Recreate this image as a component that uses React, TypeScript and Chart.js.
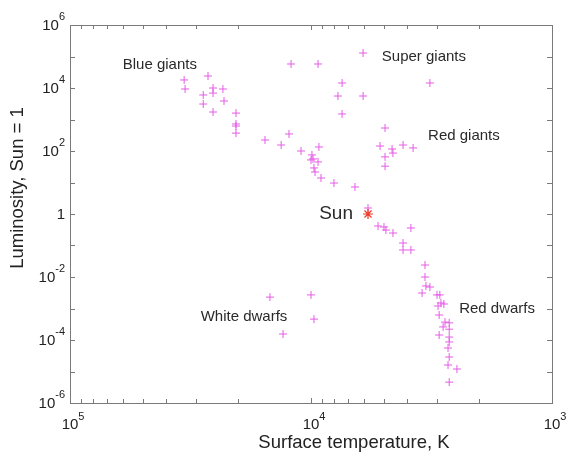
import React, { useEffect, useRef } from "react";
import { Chart, registerables } from "chart.js";

Chart.register(...registerables);

// Star surface temperatures (K) and luminosities (Sun = 1)
const starTemps: number[] = [
  33600, 33300, 26750, 25500, 25500, 23200, 28000, 28000, 22960, 25500,
  20480, 20480, 20480, 20480, 15520, 13300, 12340,
  12100, 9350, 6080, 7430, 7730, 6080, 7430, 3210,
  11000, 9270, 9910, 10000, 9810, 9350, 9720, 9620, 9090, 8030, 6570,
  4930, 5170, 4610, 4570, 4930, 4150, 3770, 4930,
  5800,
  5270, 4980, 4890, 4570, 3850, 4150, 4150, 3850, 3365, 3365,
  3335, 3210, 3460, 3000, 2920, 2890, 2810, 2970, 2940, 2780,
  2670, 2830, 2670, 2940, 2670, 2670, 2700, 2670, 2700, 2480, 2670,
  14800, 13060, 10000, 9720,
];
const starLums: number[] = [
  18000, 9300, 24000, 10000, 6900, 9300, 6000, 3100, 3870, 1730,
  1600, 720, 620, 370, 223, 155, 347,
  57800, 57800, 129000, 14400, 5570, 5570, 1500, 14400,
  100, 134, 75, 52, 56, 45, 29, 21.5, 13.9, 9.6, 7.2,
  537, 144, 116, 86, 65, 155, 125, 33,
  1.55,
  0.416, 0.386, 0.31, 0.249, 0.36, 0.12, 0.072, 0.072, 0.024, 0.01,
  0.0052, 0.0048, 0.0031, 0.0027, 0.0027, 0.0015, 0.00139, 0.0012, 0.00062, 0.00037,
  0.00035, 0.00026, 0.00022, 0.000144, 0.000124, 0.0000865, 0.0000557, 0.0000289, 0.0000161, 0.000012, 0.0000046,
  0.0023, 0.000155, 0.0027, 0.00046,
];

const sunTemp: number[] = [5800];
const sunLum: number[] = [1];

// Region labels (positioned in data coordinates)
const regionNames: string[] = ["Blue giants", "Super giants", "Red giants", "White dwarfs", "Red dwarfs"];
const regionTemps: number[] = [42400, 3400, 2320, 18970, 1690];
const regionLums: number[] = [53700, 96400, 299, 0.000537, 0.00096];
const sunLabel = "Sun";
const sunLabelTemp = 7870;
const sunLabelLum = 1;

// Tick labels
const xTickVals: number[] = [100000, 10000, 1000];
const xTickExps: string[] = ["5", "4", "3"];
const yTickVals: number[] = [1e6, 1e4, 1e2, 1, 1e-2, 1e-4, 1e-6];
const yTickExps: string[] = ["6", "4", "2", "", "-2", "-4", "-6"];

const xTitle = "Surface temperature, K";
const yTitle = "Luminosity, Sun = 1";

const FONT = "'Liberation Sans', Arial, Helvetica, sans-serif";

const framePlugin = {
  id: "framePlugin",
  afterDraw(chart: any) {
    const ctx = chart.ctx as CanvasRenderingContext2D;
    const { left, right, top, bottom } = chart.chartArea;
    const xs = chart.scales.x;
    const ys = chart.scales.y;
    ctx.save();
    // frame
    ctx.strokeStyle = "#7a7a7a";
    ctx.lineWidth = 1;
    ctx.strokeRect(Math.round(left) + 0.5, Math.round(top) + 0.5, Math.round(right - left), Math.round(bottom - top));

    // x ticks (major + minor), inward, bottom and top
    ctx.beginPath();
    for (let e = 3; e <= 4; e++) {
      for (let m = 1; m <= 9; m++) {
        const v = m * Math.pow(10, e);
        const px = Math.round(xs.getPixelForValue(v)) + 0.5;
        const len = m === 1 ? 5 : 4;
        ctx.moveTo(px, bottom);
        ctx.lineTo(px, bottom - len);
        ctx.moveTo(px, top);
        ctx.lineTo(px, top + len);
      }
    }
    // y ticks every decade, left and right
    for (let e = -6; e <= 6; e++) {
      const py = Math.round(ys.getPixelForValue(Math.pow(10, e))) + 0.5;
      ctx.moveTo(left, py);
      ctx.lineTo(left + 5, py);
      ctx.moveTo(right, py);
      ctx.lineTo(right - 5, py);
    }
    ctx.stroke();

    // tick labels with superscripts
    ctx.fillStyle = "#222";
    ctx.textBaseline = "middle";
    const baseFont = `15px ${FONT}`;
    const expFont = `11px ${FONT}`;
    yTickVals.forEach((v, i) => {
      const py = ys.getPixelForValue(v);
      const exp = yTickExps[i];
      const base = exp === "" ? "1" : "10";
      ctx.font = baseFont;
      const bw = ctx.measureText(base).width;
      ctx.font = expFont;
      const ew = exp ? ctx.measureText(exp).width : 0;
      const rightEdge = left - 5;
      const bx = rightEdge - ew - bw;
      ctx.font = baseFont;
      ctx.textAlign = "left";
      ctx.fillText(base, bx, py + 1);
      if (exp) {
        ctx.font = expFont;
        ctx.fillText(exp, bx + bw, py - 8);
      }
    });
    xTickVals.forEach((v, i) => {
      const px = xs.getPixelForValue(v);
      const exp = xTickExps[i];
      ctx.font = baseFont;
      const bw = ctx.measureText("10").width;
      ctx.textAlign = "left";
      const py = bottom + 22;
      ctx.fillText("10", px - bw / 2, py);
      ctx.font = expFont;
      ctx.fillText(exp, px + bw / 2, py - 8);
    });

    // region labels
    ctx.fillStyle = "#2a2a2a";
    ctx.textAlign = "center";
    ctx.font = `15px ${FONT}`;
    regionNames.forEach((name, i) => {
      ctx.fillText(name, xs.getPixelForValue(regionTemps[i]), ys.getPixelForValue(regionLums[i]));
    });
    ctx.font = `19px ${FONT}`;
    ctx.fillText(sunLabel, xs.getPixelForValue(sunLabelTemp), ys.getPixelForValue(sunLabelLum));

    // axis titles
    ctx.font = `18.5px ${FONT}`;
    ctx.fillStyle = "#222";
    ctx.fillText(xTitle, (left + right) / 2 + 43, bottom + 40);
    ctx.save();
    ctx.translate(left - 52, (top + bottom) / 2 - 26);
    ctx.rotate(-Math.PI / 2);
    ctx.fillText(yTitle, 0, 0);
    ctx.restore();
    ctx.restore();
  },
};

export default function App() {
  const canvasRef = useRef<HTMLCanvasElement | null>(null);

  useEffect(() => {
    if (!canvasRef.current) return;
    const starData = starTemps.map((t, i) => ({ x: t, y: starLums[i] }));
    const sunData = sunTemp.map((t, i) => ({ x: t, y: sunLum[i] }));
    const chart = new Chart(canvasRef.current, {
      type: "scatter",
      data: {
        datasets: [
          {
            label: "Sun",
            data: sunData,
            pointStyle: "star",
            pointRadius: 5,
            borderColor: "#f03a2a",
            backgroundColor: "#f03a2a",
            borderWidth: 1.2,
          },
          {
            label: "Stars",
            data: starData,
            pointStyle: "cross",
            pointRadius: 4,
            borderColor: "#e65ce6",
            backgroundColor: "#e65ce6",
            borderWidth: 1,
          },
        ],
      },
      options: {
        animation: false,
        responsive: true,
        maintainAspectRatio: false,
        layout: { padding: { left: 0, top: 25, right: 19, bottom: 0 } },
        plugins: {
          legend: { display: false },
          tooltip: { enabled: false },
        },
        scales: {
          x: {
            type: "logarithmic",
            min: 1000,
            max: 100000,
            reverse: true,
            grid: { display: false },
            border: { display: false },
            ticks: { display: false },
            afterFit: (s: any) => {
              s.height = 54;
            },
          },
          y: {
            type: "logarithmic",
            min: 1e-6,
            max: 1e6,
            grid: { display: false },
            border: { display: false },
            ticks: { display: false },
            afterFit: (s: any) => {
              s.width = 70;
            },
          },
        },
      },
      plugins: [framePlugin],
    });
    return () => chart.destroy();
  }, []);

  return (
    <div style={{ position: "fixed", left: 0, top: 0, width: 571, height: 457, background: "#fff" }}>
      <canvas ref={canvasRef} />
    </div>
  );
}
